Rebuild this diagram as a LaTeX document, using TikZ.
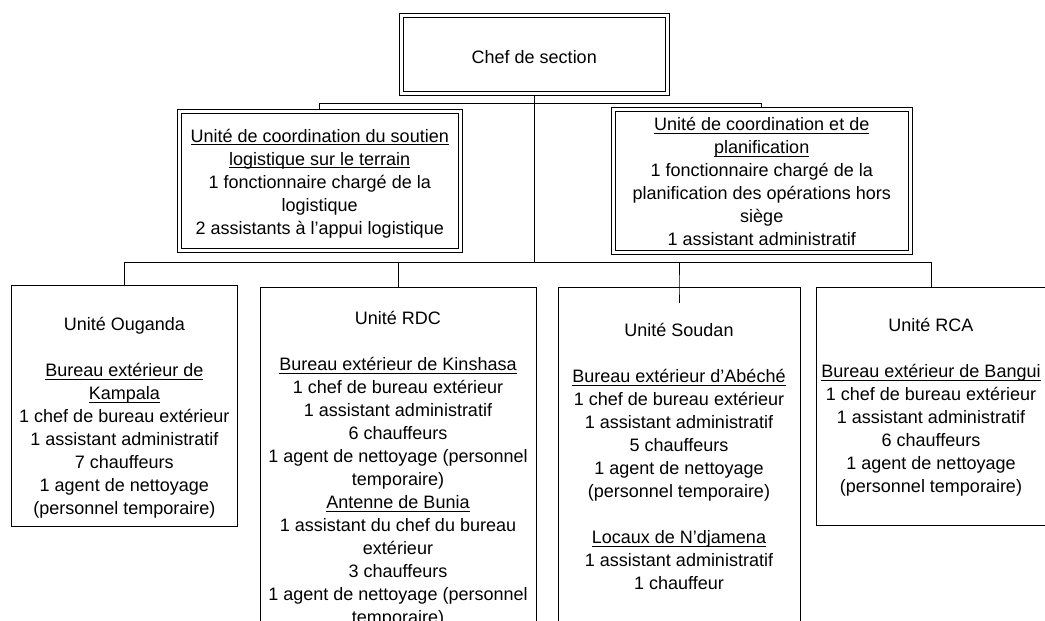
\documentclass[tikz,border=0pt]{standalone}
\usepackage{fontspec}
\setmainfont{Liberation Sans}
\usetikzlibrary{backgrounds}
\newcommand{\undl}[1]{\underline{\smash{#1}}}
\newcommand{\topstrut}{\rule{0pt}{10.5pt}}
\newcommand{\botstrut}{\rule[-3.5pt]{0pt}{3.5pt}}

\begin{document}
\begin{tikzpicture}[x=0.5pt,y=-0.5pt,
	every node/.style={font=\fontsize{9}{11.5}\selectfont},
	dblbox/.style={draw,line width=0.5pt,double,double distance=1.5pt,align=center,inner sep=0pt},
	unitbox/.style={draw,line width=0.5pt,inner sep=0pt},
	unittext/.style={align=center,inner sep=0pt,anchor=north},
	link/.style={line width=0.5pt}]
% frame
	\useasboundingbox (0,0) rectangle (1045,621);
	\clip (0,0) rectangle (1045,621);
% Chef de section
	\node[dblbox,minimum width=133.25pt,minimum height=39.25pt] (chef) at (534.25,54.25) {\rule{0pt}{9.6pt}Chef de section};
% Coordination units
	\node[dblbox,minimum width=140.75pt,minimum height=69.5pt] (soutien) at (319.75,181)
		{\topstrut\undl{Unité de coordination du soutien}\\
		\undl{logistique sur le terrain}\\
		1 fonctionnaire chargé de la\\
		logistique\\
		2 assistants à l’appui logistique\botstrut};
	\node[dblbox,minimum width=148.75pt,minimum height=69.5pt] (planif) at (761.75,181)
		{\topstrut\undl{Unité de coordination et de}\\
		\undl{planification}\\
		1 fonctionnaire chargé de la\\
		planification des opérations hors\\
		siège\\
		1 assistant administratif\botstrut};
% Field units
	\node[unitbox,minimum width=112.7pt,minimum height=120.25pt] (ouganda) at (124.3,405.75) {};
	\node[unitbox,minimum width=138pt,minimum height=186.25pt] (rdc) at (398,473.75) {};
	\node[unitbox,minimum width=121pt,minimum height=186.25pt] (soudan) at (679,473.75) {};
	\node[unitbox,minimum width=115pt,minimum height=118.75pt] (rca) at (931,406.25) {};
% Field unit texts
	\node[unittext] (ougandatxt) at (124.3,314)
		{\strut Unité Ouganda\\[11.5pt]
		\undl{Bureau extérieur de}\\
		\undl{Kampala}\\
		1 chef de bureau extérieur\\
		1 assistant administratif\\
		7 chauffeurs\\
		1 agent de nettoyage\\
		(personnel temporaire)};
	\node[unittext] (rdctxt) at (398,308)
		{\strut Unité RDC\\[11.5pt]
		\undl{Bureau extérieur de Kinshasa}\\
		1 chef de bureau extérieur\\
		1 assistant administratif\\
		6 chauffeurs\\
		1 agent de nettoyage (personnel\\
		temporaire)\\
		\undl{Antenne de Bunia}\\
		1 assistant du chef du bureau\\
		extérieur\\
		3 chauffeurs\\
		1 agent de nettoyage (personnel\\
		temporaire)};
	\node[unittext] (soudantxt) at (679,320)
		{\strut Unité Soudan\\[11.5pt]
		\undl{Bureau extérieur d’Abéché}\\
		1 chef de bureau extérieur\\
		1 assistant administratif\\
		5 chauffeurs\\
		1 agent de nettoyage\\
		(personnel temporaire)\\[11.5pt]
		\undl{Locaux de N’djamena}\\
		1 assistant administratif\\
		1 chauffeur};
	\node[unittext] (rcatxt) at (931,315)
		{\strut Unité RCA\\[11.5pt]
		\undl{Bureau extérieur de Bangui}\\
		1 chef de bureau extérieur\\
		1 assistant administratif\\
		6 chauffeurs\\
		1 agent de nettoyage\\
		(personnel temporaire)};
% Connectors
	\begin{scope}[on background layer]
	\path (chef.south) ++(0,9.5) coordinate (top);
	\path (top) ++(0,159) coordinate (mid);
	\draw[link] (chef.south) -- (top) -| (soutien.north);
	\draw[link] (top) -| (planif.north);
	\draw[link] (top) -- (mid);
	\draw[link] (mid) -| (ouganda.north);
	\draw[link] (mid) -| (rdc.north);
	\draw[link] (mid) -| (soudan.north) -- ++(0,16);
	\draw[link] (mid) -| (rca.north);
	\end{scope}
\end{tikzpicture}
\end{document}
